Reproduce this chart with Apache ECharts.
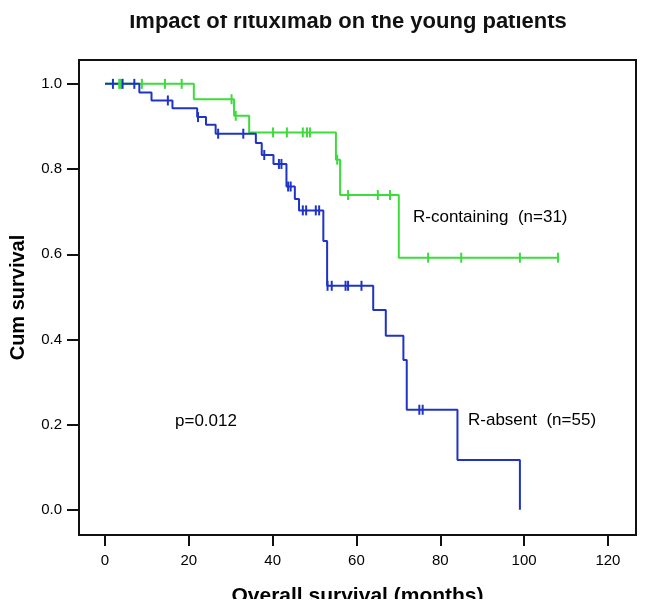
<!DOCTYPE html>
<html>
<head>
<meta charset="utf-8">
<title>Impact of rituximab on the young patients</title>
<script src="https://cdn.jsdelivr.net/npm/echarts@6/dist/echarts.min.js"></script>
<style>
    html, body { margin: 0; padding: 0; background: #fff; }
    #km_survival { width: 646px; height: 614px; }
</style>
</head>
<body>
<div id="km_survival"></div>
<script>
/* ------------------------------------------------------------------------------
 *
 *  # Kaplan-Meier - overall survival, young patients
 *
 * ---------------------------------------------------------------------------- */

// Tick labels
var xTicks = [0, 20, 40, 60, 80, 100, 120];
var yTicks = [0, 0.2, 0.4, 0.6, 0.8, 1.0];

// R-containing (n=31): months of death and survival after each step
var rcEventMonths = [21.2, 30.8, 34.4, 55.1, 56.1, 70.1];
var rcEventSurvival = [0.964, 0.925, 0.886, 0.822, 0.739, 0.592];
var rcCensoredMonths = [3.4, 3.8, 8.8, 14.3, 18.3, 30.2, 31.2, 40.1, 43.4, 47.2, 48.2, 48.9,
    55.4, 58.0, 65.1, 68.0, 77.1, 85.0, 99.0, 108.1];

// R-absent (n=55)
var raEventMonths = [8.2, 11.1, 16.1, 22.0, 24.1, 26.4, 36.0, 37.4, 40.2, 43.3, 45.3, 46.3,
    52.1, 53.0, 64.0, 67.0, 71.2, 72.0, 84.1, 99.0];
var raEventSurvival = [0.980, 0.961, 0.943, 0.922, 0.904, 0.883, 0.861, 0.833, 0.812, 0.759, 0.730, 0.703,
    0.631, 0.526, 0.469, 0.409, 0.352, 0.235, 0.117, 0.0];
var raCensoredMonths = [1.9, 4.2, 7.0, 15.0, 22.2, 27.0, 33.0, 38.0, 41.5, 42.1, 43.7, 44.3,
    47.2, 48.0, 50.3, 51.1, 53.1, 54.1, 57.4, 58.0, 61.2, 75.0, 75.8];


var KaplanMeierYoung = function() {

    // Step curve: starts at (0, 1), ends at last follow-up
    var _curve = function(months, surv, censored) {
        var pts = [[0, 1]];
        for (var i = 0; i < months.length; i++) {
            pts.push([months[i], surv[i]]);
        }
        var last = months[months.length - 1];
        var end = Math.max.apply(null, censored.concat([last]));
        if (end > last) {
            pts.push([end, surv[surv.length - 1]]);
        }
        return pts;
    };

    // Censor marks sit on the curve level at that time
    var _censorMarks = function(months, surv, censored) {
        return censored.map(function(t) {
            var s = 1;
            for (var i = 0; i < months.length; i++) {
                if (months[i] <= t) s = surv[i];
            }
            return [t, s];
        });
    };

    var _chart = function() {
        if (typeof echarts == 'undefined') {
            console.warn('Warning - echarts.min.js is not loaded.');
            return;
        }

        var km_element = document.getElementById('km_survival');
        if (!km_element) return;

        var km = echarts.init(km_element);

        var green = '#3ddc3d';
        var blue = '#1f33c4';
        var font = 'Arial, "Liberation Sans", sans-serif';

        km.setOption({
            animation: false,
            textStyle: {
                fontFamily: font
            },

            grid: {
                left: 79,
                right: 10,
                top: 60,
                bottom: 79,
                containLabel: false,
                outerBoundsMode: 'none',
                show: true,
                borderColor: '#111',
                borderWidth: 2,
                backgroundColor: '#fff'
            },

            xAxis: {
                type: 'value',
                min: -6.2,
                max: 126.7,
                name: 'Overall survival (months)',
                nameLocation: 'middle',
                nameGap: 51,
                nameTextStyle: {
                    color: '#000',
                    fontSize: 21,
                    fontWeight: 'bold'
                },
                axisLine: { show: false, onZero: false },
                splitLine: { show: false },
                axisTick: {
                    show: true,
                    customValues: xTicks,
                    length: 11,
                    lineStyle: { color: '#111', width: 2 }
                },
                axisLabel: {
                    customValues: xTicks,
                    margin: 18,
                    color: '#000',
                    fontSize: 15
                }
            },

            yAxis: {
                type: 'value',
                min: -0.059,
                max: 1.056,
                name: 'Cum survival',
                nameLocation: 'middle',
                nameGap: 51,
                nameRotate: 90,
                nameTextStyle: {
                    color: '#000',
                    fontSize: 20,
                    fontWeight: 'bold'
                },
                axisLine: { show: false, onZero: false },
                splitLine: { show: false },
                axisTick: {
                    show: true,
                    customValues: yTicks,
                    length: 12,
                    lineStyle: { color: '#111', width: 2 }
                },
                axisLabel: {
                    customValues: yTicks,
                    margin: 17,
                    color: '#000',
                    fontSize: 15,
                    formatter: function(v) { return v.toFixed(1); }
                }
            },

            graphic: [
                {
                    type: 'text',
                    x: 348,
                    y: 11,
                    z: 100,
                    style: {
                        text: 'Impact of rituximab on the young patients',
                        font: 'bold 22px ' + font,
                        fill: '#111',
                        align: 'center'
                    }
                },
                // the source picture is cut through the top of the title
                {
                    type: 'rect',
                    z: 101,
                    shape: { x: 0, y: 0, width: 646, height: 15 },
                    style: { fill: '#fff' }
                },
                // ... and through the lower half of the x axis title
                {
                    type: 'rect',
                    z: 101,
                    shape: { x: 0, y: 599, width: 646, height: 15 },
                    style: { fill: '#fff' }
                },
                {
                    type: 'text',
                    x: 413,
                    y: 217,
                    z: 100,
                    style: {
                        text: 'R-containing  (n=31)',
                        font: '17px ' + font,
                        fill: '#000',
                        verticalAlign: 'middle'
                    }
                },
                {
                    type: 'text',
                    x: 468,
                    y: 420,
                    z: 100,
                    style: {
                        text: 'R-absent  (n=55)',
                        font: '17px ' + font,
                        fill: '#000',
                        verticalAlign: 'middle'
                    }
                },
                {
                    type: 'text',
                    x: 175,
                    y: 421,
                    z: 100,
                    style: {
                        text: 'p=0.012',
                        font: '17px ' + font,
                        fill: '#000',
                        verticalAlign: 'middle'
                    }
                }
            ],

            series: [
                {
                    name: 'R-containing',
                    type: 'line',
                    step: 'end',
                    showSymbol: false,
                    data: _curve(rcEventMonths, rcEventSurvival, rcCensoredMonths),
                    lineStyle: { color: green, width: 2 },
                    itemStyle: { color: green },
                    z: 3
                },
                {
                    name: 'R-absent',
                    type: 'line',
                    step: 'end',
                    showSymbol: false,
                    data: _curve(raEventMonths, raEventSurvival, raCensoredMonths),
                    lineStyle: { color: blue, width: 2 },
                    itemStyle: { color: blue },
                    z: 4
                },
                {
                    name: 'R-containing censored',
                    type: 'scatter',
                    symbol: 'rect',
                    symbolSize: [2, 10],
                    data: _censorMarks(rcEventMonths, rcEventSurvival, rcCensoredMonths),
                    itemStyle: { color: green, opacity: 1 },
                    z: 5
                },
                {
                    name: 'R-absent censored',
                    type: 'scatter',
                    symbol: 'rect',
                    symbolSize: [2, 10],
                    data: _censorMarks(raEventMonths, raEventSurvival, raCensoredMonths),
                    itemStyle: { color: blue, opacity: 1 },
                    z: 6
                }
            ]
        });
    };

    return {
        init: function() {
            _chart();
        }
    };
}();

document.addEventListener('DOMContentLoaded', function() {
    KaplanMeierYoung.init();
});
</script>
</body>
</html>
